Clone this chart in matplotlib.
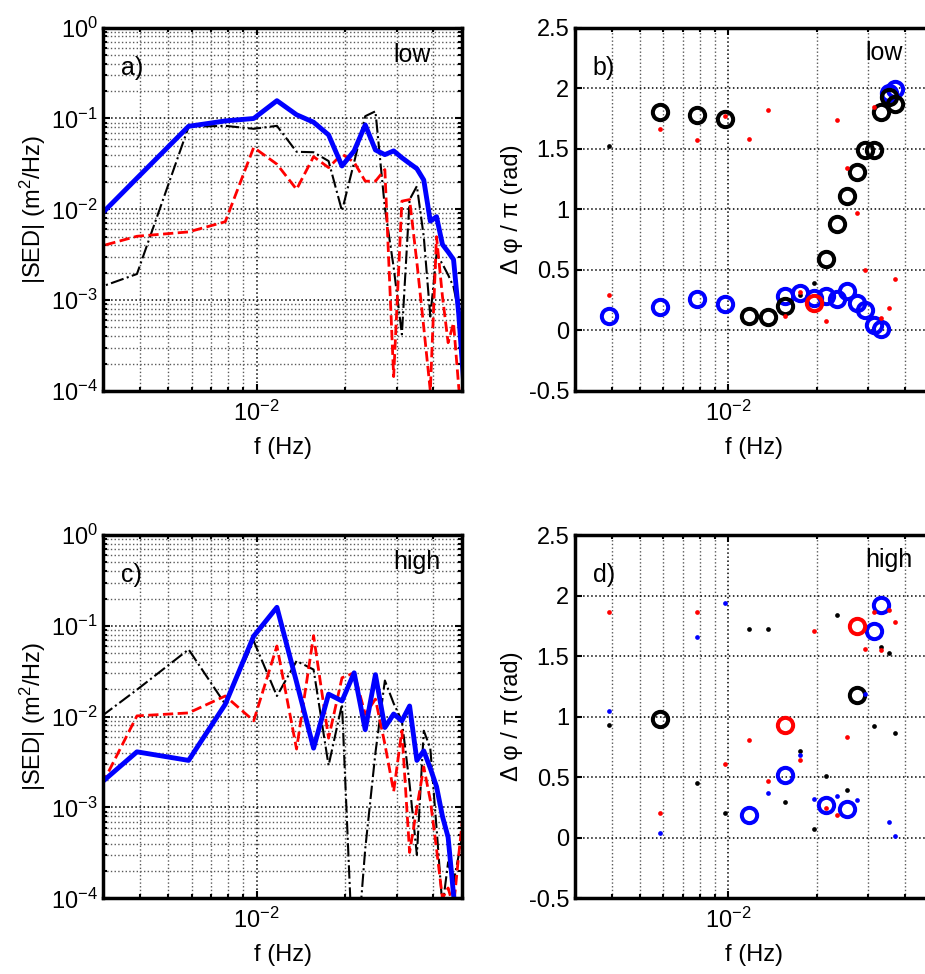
import numpy as np
import matplotlib
matplotlib.use("Agg")
import matplotlib.pyplot as plt
from matplotlib.ticker import LogLocator, NullFormatter, MultipleLocator, NullLocator

plt.rcParams.update({
    "font.family": ["Liberation Sans", "DejaVu Sans"],
    "mathtext.default": "regular",
    "axes.linewidth": 2.5,
})

# frequency bins (Hz), harmonic n = 1..26
freq = np.array([0.001953, 0.003906, 0.005859, 0.007813, 0.009766, 0.011719, 0.013672,
                 0.015625, 0.017578, 0.019531, 0.021484, 0.023438, 0.025391, 0.027344,
                 0.029297, 0.031250, 0.033203, 0.035156, 0.037109, 0.039063, 0.041016,
                 0.042969, 0.044922, 0.046875, 0.048828, 0.050781])

# ---- spectra, "low" case (panel a)
sed_blue_low = [0.0023, 0.022, 0.082, 0.094, 0.100, 0.157, 0.110, 0.091, 0.066, 0.030,
                0.044, 0.085, 0.045, 0.040, 0.044, 0.037, 0.032, 0.028, 0.021, 0.0074,
                0.0083, 0.0041, 0.0034, 0.0028, 0.0007, 0.00012]
sed_black_low = [0.00087, 0.00194, 0.081, 0.083, 0.077, 0.083, 0.043, 0.0425, 0.034, 0.0096,
                 0.033, 0.106, 0.12, 0.0104, 0.0023, 0.00042, 0.0128, 0.018, 0.005, 0.00066,
                 0.0032, 0.0025, 0.0019, 0.0014, 0.00073, 0.0002]
sed_red_low = [0.00273, 0.00505, 0.00564, 0.0073, 0.048, 0.0314, 0.0166, 0.038, 0.0288, 0.0406,
               0.033, 0.0204, 0.0204, 0.0274, 0.000144, 0.0123, 0.0128, 0.0026, 0.0005, 0.0001,
               0.005, 0.0011, 0.00034, 0.00056, 0.00011, 0.00003]

# ---- spectra, "high" case (panel c)
sed_blue_high = [0.00059, 0.0041, 0.0033, 0.0137, 0.077, 0.16, 0.024, 0.0045, 0.0177, 0.0149,
                 0.0304, 0.0072, 0.029, 0.0076, 0.0107, 0.009, 0.0131, 0.0033, 0.0042, 0.0027,
                 0.0017, 0.0008, 0.00047, 0.00011, 0.00004, 0.00002]
sed_black_high = [0.0037, 0.0198, 0.055, 0.0137, 0.068, 0.0169, 0.041, 0.033, 0.0029, 0.0137,
                  0.00001, 0.00035, 0.004, 0.025, 0.014, 0.009, 0.0018, 0.0003, 0.007, 0.0045,
                  0.0006, 0.00008, 0.00025, 0.00015, 0.0003, 0.0006]
sed_red_high = [0.000125, 0.0102, 0.011, 0.0169, 0.009, 0.06, 0.0044, 0.078, 0.0058, 0.0268,
                0.0304, 0.0106, 0.0156, 0.005, 0.0015, 0.007, 0.00032, 0.001, 0.0028, 0.0012,
                0.00035, 0.0001, 0.00013, 0.00008, 0.0003, 0.001]

# ---- phase differences, "low" case (panel b): harmonic numbers + values (units of pi)
b_blue_ring_n = [2, 3, 4, 5, 8, 9, 10, 11, 12, 13, 14, 15, 16, 17, 18, 19]
b_blue_ring_v = [0.122, 0.193, 0.26, 0.221, 0.287, 0.309, 0.27, 0.287, 0.26, 0.323, 0.227,
                 0.166, 0.047, 0.011, 1.96, 1.995]
b_black_ring_n = [3, 4, 5, 6, 7, 8, 11, 12, 13, 14, 15, 16, 17, 18, 19]
b_black_ring_v = [1.803, 1.776, 1.748, 0.122, 0.11, 0.204, 0.591, 0.876, 1.11, 1.309, 1.488,
                  1.488, 1.803, 1.93, 1.872]
b_red_ring_n = [10]
b_red_ring_v = [0.227]
b_black_dot_n = [2, 9, 10]
b_black_dot_v = [1.523, 0.296, 0.392]
b_red_dot_n = [2, 3, 4, 5, 6, 7, 8, 9, 11, 12, 13, 14, 15, 16, 17, 18, 19]
b_red_dot_v = [0.296, 1.666, 1.575, 1.767, 1.58, 1.822, 0.116, 0.315, 0.075, 1.735, 1.345,
               0.972, 0.497, 1.844, 0.102, 0.185, 0.425]
b_blue_dot_n = []
b_blue_dot_v = []

# ---- phase differences, "high" case (panel d)
d_blue_ring_n = [6, 8, 11, 13, 16, 17]
d_blue_ring_v = [0.19, 0.515, 0.267, 0.24, 1.709, 1.923]
d_black_ring_n = [3, 14]
d_black_ring_v = [0.984, 1.181]
d_red_ring_n = [8, 14]
d_red_ring_v = [0.93, 1.745]
d_black_dot_n = [2, 4, 5, 6, 7, 8, 9, 10, 11, 12, 13, 16, 17, 18, 19]
d_black_dot_v = [0.93, 0.452, 0.207, 1.723, 1.723, 0.295, 0.716, 0.074, 0.507, 1.838, 0.391,
                 0.925, 1.574, 1.525, 0.865]
d_red_dot_n = [2, 3, 4, 5, 6, 7, 9, 10, 11, 12, 13, 15, 16, 17, 18, 19]
d_red_dot_v = [1.863, 0.207, 1.863, 0.612, 0.81, 0.468, 0.639, 1.709, 0.245, 0.185, 0.832,
               1.56, 1.863, 1.55, 1.882, 1.78]
d_blue_dot_n = [2, 3, 4, 5, 7, 9, 10, 12, 14, 15, 18, 19]
d_blue_dot_v = [1.049, 0.041, 1.662, 1.942, 0.372, 0.68, 0.322, 0.342, 0.314, 1.187, 0.127, 0.017]

BLUE = "#0000ff"
RED = "#ff0000"
FS = 17      # ticks and axis labels
FS_TAG = 18  # panel letters and case names


def at(n):
    return freq[np.asarray(n, dtype=int) - 1]


def style_axes(ax, logy):
    ax.set_xscale("log")
    ax.set_xlim(3e-3, 5e-2)
    ax.xaxis.set_major_locator(LogLocator(base=10))
    ax.xaxis.set_minor_locator(LogLocator(base=10, subs=np.arange(2, 10)))
    ax.xaxis.set_minor_formatter(NullFormatter())
    if logy:
        ax.set_yscale("log")
        ax.set_ylim(1e-4, 1)
        ax.yaxis.set_major_locator(LogLocator(base=10))
        ax.yaxis.set_minor_locator(LogLocator(base=10, subs=np.arange(2, 10)))
        ax.yaxis.set_minor_formatter(NullFormatter())
        ax.grid(True, which="minor", axis="both", ls=":", color="0.35", lw=1.0)
    else:
        ax.set_ylim(-0.5, 2.5)
        ax.yaxis.set_major_locator(MultipleLocator(0.5))
        ax.yaxis.set_minor_locator(NullLocator())
        ax.set_yticks([-0.5, 0, 0.5, 1, 1.5, 2, 2.5])
        ax.set_yticklabels(["-0.5", "0", "0.5", "1", "1.5", "2", "2.5"])
        ax.grid(True, which="minor", axis="x", ls=":", color="0.35", lw=1.0)
    ax.grid(True, which="major", ls=":", color="k", lw=1.1)
    ax.set_axisbelow(True)
    ax.tick_params(which="both", direction="in", top=True, right=True, labelsize=FS, width=1.5)
    ax.tick_params(which="major", length=5)
    ax.tick_params(axis="y", which="major", pad=4)
    ax.tick_params(axis="x", which="major", pad=7)
    ax.tick_params(which="minor", length=3)
    ax.set_xlabel("f (Hz)", fontsize=FS, labelpad=8)


def spectra(ax, blue, black, red, tag, case):
    style_axes(ax, True)
    ax.plot(freq, black, color="k", ls="-.", lw=1.5)
    ax.plot(freq, red, color=RED, ls="--", lw=2.0)
    ax.plot(freq, blue, color=BLUE, ls="-", lw=3.5)
    ax.set_ylabel("|SED| (m$^2$/Hz)", fontsize=FS, labelpad=2)
    ax.text(0.05, 0.89, tag, transform=ax.transAxes, fontsize=FS_TAG, va="center")
    ax.text(0.81, 0.925, case, transform=ax.transAxes, fontsize=FS_TAG, va="center")


def phases(ax, rings, dots, tag, case):
    style_axes(ax, False)
    for n, v, c in rings:
        ax.plot(at(n), v, ls="none", marker="o", ms=11, mfc="none", mec=c, mew=2.9,
                clip_on=False)
    for n, v, c in dots:
        if len(n):
            ax.plot(at(n), v, ls="none", marker="o", ms=3.4, mfc=c, mec=c, mew=0)
    ax.set_ylabel("Δ φ / π (rad)", fontsize=FS, labelpad=4)
    ax.text(0.05, 0.89, tag, transform=ax.transAxes, fontsize=FS_TAG, va="center")
    ax.text(0.81, 0.93, case, transform=ax.transAxes, fontsize=FS_TAG, va="center")


fig = plt.figure(figsize=(9.25, 9.74), dpi=100)
W, H = 0.3875, 0.373
ax_a = fig.add_axes([0.1117, 0.5986, W, H])
ax_b = fig.add_axes([0.6216, 0.5986, W, H])
ax_c = fig.add_axes([0.1117, 0.0777, W, H])
ax_d = fig.add_axes([0.6216, 0.0777, W, H])

spectra(ax_a, sed_blue_low, sed_black_low, sed_red_low, "a)", "low")
spectra(ax_c, sed_blue_high, sed_black_high, sed_red_high, "c)", "high")

phases(ax_b,
       [(b_blue_ring_n, b_blue_ring_v, BLUE), (b_black_ring_n, b_black_ring_v, "k"),
        (b_red_ring_n, b_red_ring_v, RED)],
       [(b_black_dot_n, b_black_dot_v, "k"), (b_red_dot_n, b_red_dot_v, RED),
        (b_blue_dot_n, b_blue_dot_v, BLUE)],
       "b)", "low")
phases(ax_d,
       [(d_blue_ring_n, d_blue_ring_v, BLUE), (d_black_ring_n, d_black_ring_v, "k"),
        (d_red_ring_n, d_red_ring_v, RED)],
       [(d_black_dot_n, d_black_dot_v, "k"), (d_red_dot_n, d_red_dot_v, RED),
        (d_blue_dot_n, d_blue_dot_v, BLUE)],
       "d)", "high")

fig.savefig("out.png", dpi=100)
